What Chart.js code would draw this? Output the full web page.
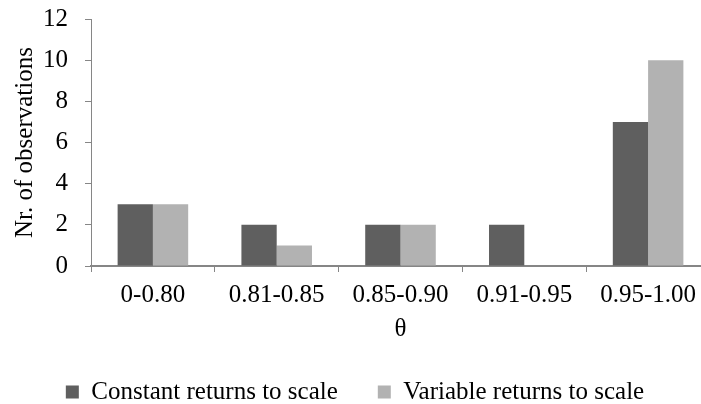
<!DOCTYPE html>
<html>
<head>
<meta charset="utf-8">
<script src="https://cdn.jsdelivr.net/npm/chart.js@4/dist/chart.umd.min.js"></script>
<style>
  html, body { margin: 0; padding: 0; background: #fff; overflow: hidden; }
  #wrap { width: 712px; height: 404px; position: relative; }
</style>
</head>
<body>
<div id="wrap"><canvas id="chart"></canvas></div>
<script>
const categories = ['0-0.80', '0.81-0.85', '0.85-0.90', '0.91-0.95', '0.95-1.00'];
const constantReturns = [3, 2, 2, 2, 7];
const variableReturns = [3, 1, 2, 0, 10];

const axisColor = '#868686';
const font = { family: "'Liberation Serif', 'Times New Roman', serif", size: 25 };

const ctx = document.getElementById('chart').getContext('2d');
new Chart(ctx, {
  type: 'bar',
  data: {
    labels: categories,
    datasets: [
      {
        label: 'Constant returns to scale',
        data: constantReturns,
        backgroundColor: '#5f5f5f',
        categoryPercentage: 0.57,
        barPercentage: 1.0
      },
      {
        label: 'Variable returns to scale',
        data: variableReturns,
        backgroundColor: '#b2b2b2',
        categoryPercentage: 0.57,
        barPercentage: 1.0
      }
    ]
  },
  options: {
    responsive: true,
    maintainAspectRatio: false,
    animation: false,
    layout: { padding: { top: 19, left: 0, right: 2, bottom: -10.5 } },
    plugins: {
      tooltip: { enabled: false },
      legend: {
        position: 'bottom',
        labels: {
          color: '#000',
          font: font,
          boxWidth: 13,
          boxHeight: 13,
          padding: 40
        }
      }
    },
    scales: {
      x: {
        grid: { drawOnChartArea: false, color: axisColor, tickLength: 6 },
        border: { color: axisColor, width: 2 },
        ticks: { color: '#000', font: font, padding: 8 },
        title: { display: true, text: 'θ', color: '#000', font: font, padding: { top: -3.5, bottom: -5 } }
      },
      y: {
        min: 0,
        max: 12,
        ticks: { stepSize: 2, color: '#000', font: font, padding: 17 },
        grid: { drawOnChartArea: false, color: axisColor, tickLength: 6 },
        border: { color: axisColor, width: 1 },
        title: { display: true, text: 'Nr. of observations', color: '#000', font: font, padding: { top: 10, bottom: 0 } },
        // fixed axis width, and let the top tick sit at the layout edge like the original
        afterFit: scale => { scale.width = 91; scale.paddingTop = 0; }
      }
    }
  }
});
</script>
</body>
</html>
